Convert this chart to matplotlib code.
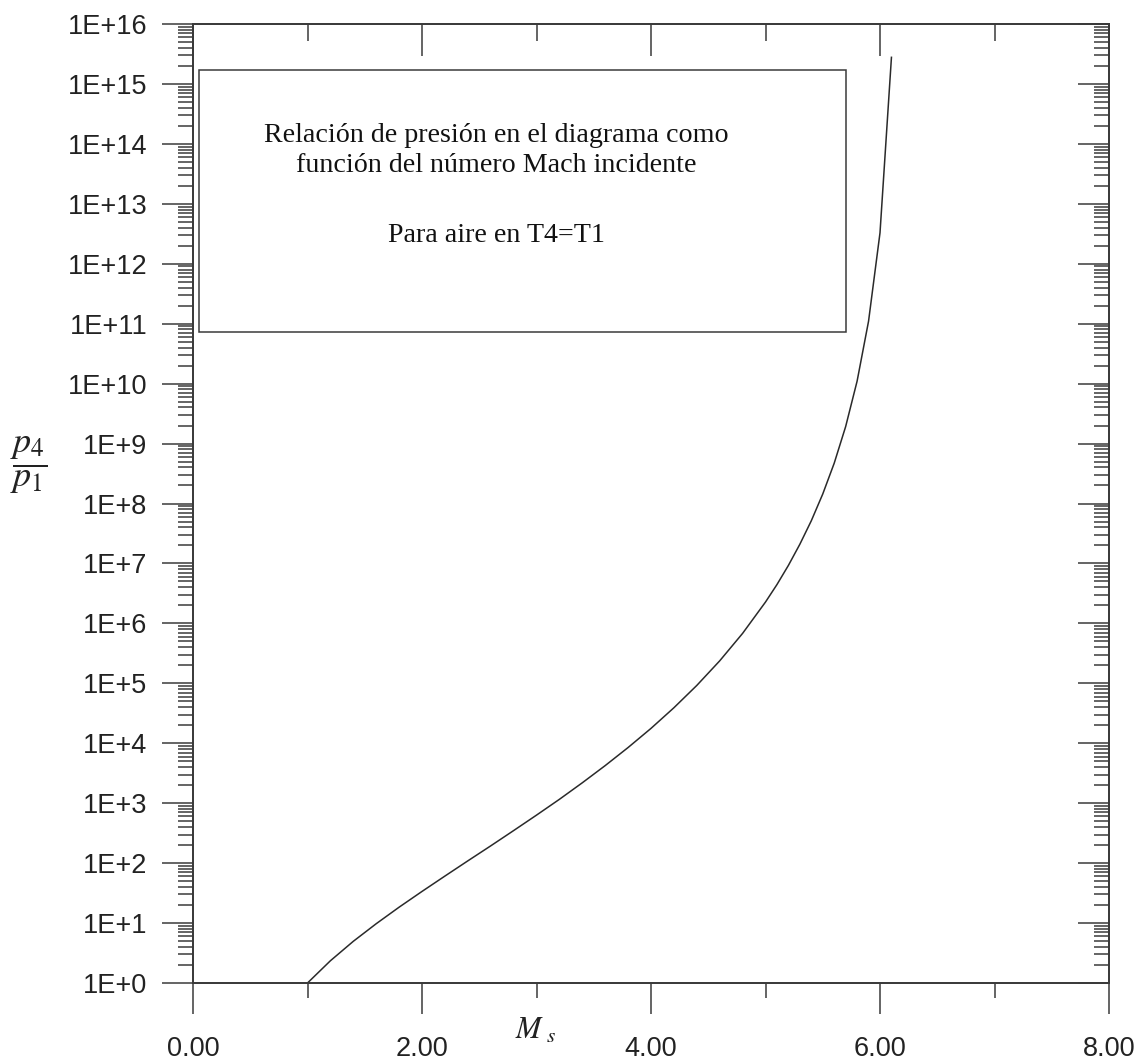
import numpy as np
import matplotlib
matplotlib.use("Agg")
import matplotlib.pyplot as plt
from matplotlib.ticker import FixedLocator, LogLocator, FixedFormatter, NullFormatter
from matplotlib.patches import Rectangle

# ---- data ----
mach = [1.0, 1.2, 1.4, 1.6, 1.8, 2.0, 2.2, 2.4, 2.6, 2.8, 3.0, 3.2, 3.4, 3.6, 3.8,
        4.0, 4.2, 4.4, 4.6, 4.8, 5.0, 5.1, 5.2, 5.3, 5.4, 5.5, 5.6, 5.7, 5.8, 5.9,
        6.0, 6.1]
p41 = [1.0, 2.35, 4.96, 9.75, 18.4, 33.7, 60.8, 109, 194, 349, 632, 1160, 2190,
       4240, 8490, 1.77e4, 3.91e4, 9.22e4, 2.37e5, 6.81e5, 2.27e6, 4.44e6, 9.27e6,
       2.09e7, 5.15e7, 1.44e8, 4.70e8, 1.92e9, 1.10e10, 1.10e11, 3.28e12, 2.78e15]

x_major = [0, 2, 4, 6, 8]
x_minor = [1, 3, 5, 7]
x_tick_labels = ["0.00", "2.00", "4.00", "6.00", "8.00"]
y_major = [10.0 ** k for k in range(0, 17)]
y_tick_labels = ["1E+%d" % k for k in range(0, 17)]

box_lines = ["Relación de presión en el diagrama como",
             "función del número Mach incidente",
             "Para aire en T4=T1"]

# ---- figure ----
plt.rcParams["mathtext.fontset"] = "stix"
W, H = 1146, 1061
fig = plt.figure(figsize=(W / 100, H / 100), dpi=100)
L, R, B, T = 193 / W, 1109 / W, 1 - 983 / H, 1 - 24 / H
ax = fig.add_axes([L, B, R - L, T - B])

col = "#3a3a3a"
ax.plot(mach, p41, color="#2a2a2a", lw=1.1)
ax.set_yscale("log")
ax.set_xlim(0, 8)
ax.set_ylim(1, 1e16)

for s in ax.spines.values():
    s.set_color(col)
    s.set_linewidth(1.1)

tick_font = dict(family=["Liberation Sans", "DejaVu Sans"], size=19.5)

ax.xaxis.set_major_locator(FixedLocator(x_major))
ax.xaxis.set_minor_locator(FixedLocator(x_minor))
ax.xaxis.set_major_formatter(FixedFormatter(x_tick_labels))
ax.yaxis.set_major_locator(FixedLocator(y_major))
ax.yaxis.set_major_formatter(FixedFormatter(y_tick_labels))
ax.yaxis.set_minor_locator(LogLocator(base=10, subs=np.arange(2, 10), numticks=100))
ax.yaxis.set_minor_formatter(NullFormatter())

ax.tick_params(which="both", direction="out", color=col, width=1.1,
               top=False, right=False)
ax.tick_params(which="major", length=22)
ax.tick_params(which="minor", length=11)
ax.tick_params(axis="y", which="major", pad=11)
ax.tick_params(axis="x", which="major", pad=16)
for lab in ax.get_xticklabels() + ax.get_yticklabels():
    lab.set_fontfamily(tick_font["family"])
    lab.set_fontsize(tick_font["size"])
    lab.set_color("#222222")

# right side, inward ticks
axr = ax.twinx()
axr.set_yscale("log")
axr.set_ylim(1, 1e16)
axr.yaxis.set_major_locator(FixedLocator(y_major))
axr.yaxis.set_minor_locator(LogLocator(base=10, subs=np.arange(2, 10), numticks=100))
axr.yaxis.set_major_formatter(NullFormatter())
axr.yaxis.set_minor_formatter(NullFormatter())
axr.tick_params(which="both", direction="in", color=col, width=1.1, labelright=False)
axr.tick_params(which="major", length=22)
axr.tick_params(which="minor", length=11)

# top side, inward ticks
axt = ax.twiny()
axt.set_xlim(0, 8)
axt.xaxis.set_major_locator(FixedLocator(x_major))
axt.xaxis.set_minor_locator(FixedLocator(x_minor))
axt.xaxis.set_major_formatter(NullFormatter())
axt.tick_params(which="both", direction="in", color=col, width=1.1, labeltop=False)
axt.tick_params(which="major", length=23)
axt.tick_params(which="minor", length=12)
for a in (axr, axt):
    for s in a.spines.values():
        s.set_color(col)
        s.set_linewidth(1.1)

# text box
bx0, bx1 = (199 - 193) / 916, (846 - 193) / 916
by1, by0 = (983 - 70) / 959, (983 - 332) / 959
ax.add_patch(Rectangle((bx0, by0), bx1 - bx0, by1 - by0, transform=ax.transAxes,
                       fill=False, edgecolor=col, lw=1.1, zorder=3))
serif = ["Liberation Serif", "DejaVu Serif"]
cx = (496 - 193) / 916
for line, ypx in zip(box_lines, [136, 166, 236]):
    ax.text(cx, (983 - ypx) / 959, line, transform=ax.transAxes, ha="center",
            va="center", fontsize=20.2, family=serif, color="#111111")

# axis labels
fig.text(29 / W, 1 - 465 / H, r"$\dfrac{p_4}{p_1}$", fontsize=26,
         ha="center", va="center", color="#222222")
fig.text(535 / W, 1 - 1030 / H, r"$M_{\ s}$", fontsize=22,
         ha="center", va="center", color="#222222")

fig.savefig("out.png", dpi=100)
